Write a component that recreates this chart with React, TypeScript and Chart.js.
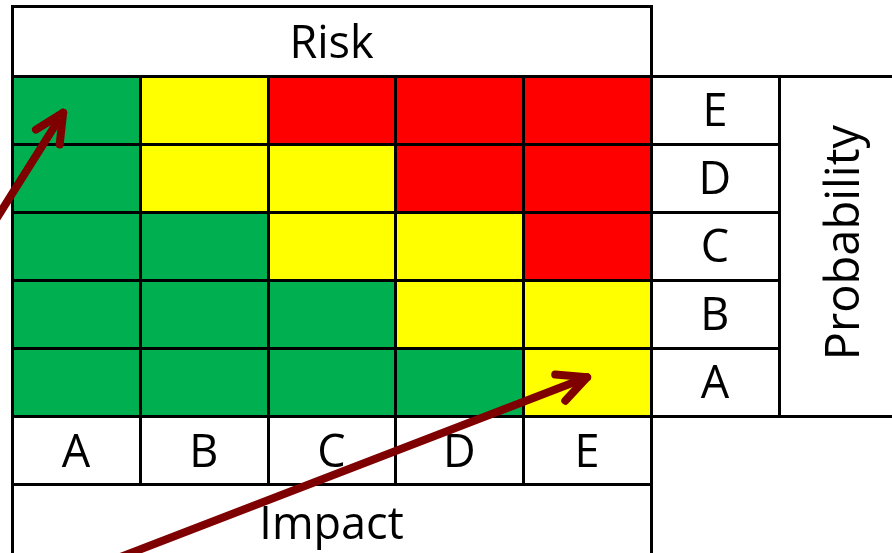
import React, { useEffect, useRef } from "react";
import { Chart, registerables } from "chart.js";

Chart.register(...registerables);

// ---- Data ----
const impactLabels = ["A", "B", "C", "D", "E"]; // columns, left to right
const probabilityLabels = ["A", "B", "C", "D", "E"]; // rows, bottom to top
// risk level per probability row (A..E), per impact column (A..E)
const riskRowA = ["low", "low", "low", "low", "medium"];
const riskRowB = ["low", "low", "low", "medium", "medium"];
const riskRowC = ["low", "low", "medium", "medium", "high"];
const riskRowD = ["low", "medium", "medium", "high", "high"];
const riskRowE = ["low", "medium", "high", "high", "high"];
const riskRows = [riskRowA, riskRowB, riskRowC, riskRowD, riskRowE];
const levelColors: Record<string, string> = {
  low: "#00B050",
  medium: "#FFFF00",
  high: "#FF0000",
};
const titleText = "Risk";
const xTitleText = "Impact";
const yTitleText = "Probability";
// arrows in value units [x, y] (impact column units, probability row units)
const arrowFrom1 = [-0.17, 2.76];
const arrowTo1 = [0.4, 4.46];
const arrowFrom2 = [0.84, -2.08];
const arrowTo2 = [4.5, 0.57];

// ---- layout constants ----
const X_MIN = -0.094;
const X_MAX = 6.886;
const Y_MIN = -2.015;
const Y_MAX = 6.118;
const HEADER_TOP = 6.03;
const FONT = "'Open Sans', 'DejaVu Sans', sans-serif";
const FONT_SIZE = 45;
const CAP = 0.714;

const tablePlugin = {
  id: "riskTable",
  afterDatasetsDraw(chart: any) {
    const { ctx } = chart;
    const xs = chart.scales.x;
    const ys = chart.scales.y;
    const X = (v: number) => xs.getPixelForValue(v);
    const Y = (v: number) => ys.getPixelForValue(v);
    const n = impactLabels.length;
    const m = probabilityLabels.length;
    ctx.save();
    ctx.strokeStyle = "#000";
    ctx.lineWidth = 3;
    ctx.lineCap = "square";
    const line = (x1: number, y1: number, x2: number, y2: number) => {
      ctx.beginPath();
      ctx.moveTo(Math.round(X(x1)) + 0.5, Math.round(Y(y1)) + 0.5);
      ctx.lineTo(Math.round(X(x2)) + 0.5, Math.round(Y(y2)) + 0.5);
      ctx.stroke();
    };
    // horizontal lines
    line(0, HEADER_TOP, n, HEADER_TOP);
    line(0, m, X_MAX + 0.1, m);
    for (let r = 1; r < m; r++) line(0, r, n + 1, r);
    line(0, 0, X_MAX + 0.1, 0);
    line(0, -1, n, -1);
    // vertical lines
    line(0, HEADER_TOP, 0, Y_MIN - 0.1);
    for (let c = 1; c < n; c++) line(c, m, c, -1);
    line(n, HEADER_TOP, n, Y_MIN - 0.1);
    line(n + 1, m, n + 1, 0);

    // text
    ctx.fillStyle = "#000";
    ctx.font = `${FONT_SIZE}px ${FONT}`;
    ctx.textAlign = "center";
    ctx.textBaseline = "alphabetic";
    const capOff = (CAP * FONT_SIZE) / 2;
    const text = (t: string, vx: number, vy: number) => {
      ctx.fillText(t, X(vx), Y(vy) + capOff);
    };
    text(titleText, n / 2, (m + HEADER_TOP) / 2 - 0.02);
    impactLabels.forEach((l, i) => text(l, i + 0.5, -0.52));
    text(xTitleText, n / 2, -1.57);
    probabilityLabels.forEach((l, i) => text(l, n + 0.5, i + 0.5));
    // rotated title
    ctx.save();
    ctx.translate(X(n + 1.5), Y(m / 2 + 0.05));
    ctx.rotate(-Math.PI / 2);
    ctx.font = `${FONT_SIZE + 2}px ${FONT}`;
    ctx.fillText(yTitleText, 0, capOff);
    ctx.restore();

    // arrows
    ctx.strokeStyle = "#7F0000";
    ctx.lineWidth = 8;
    ctx.lineCap = "round";
    ctx.lineJoin = "round";
    const arrow = (from: number[], to: number[]) => {
      const x1 = X(from[0]);
      const y1 = Y(from[1]);
      const x2 = X(to[0]);
      const y2 = Y(to[1]);
      const ang = Math.atan2(y2 - y1, x2 - x1);
      ctx.beginPath();
      ctx.moveTo(x1, y1);
      ctx.lineTo(x2, y2);
      ctx.stroke();
      const len = 32;
      const spread = (26 * Math.PI) / 180;
      ctx.beginPath();
      ctx.moveTo(x2 - len * Math.cos(ang - spread), y2 - len * Math.sin(ang - spread));
      ctx.lineTo(x2, y2);
      ctx.lineTo(x2 - len * Math.cos(ang + spread), y2 - len * Math.sin(ang + spread));
      ctx.stroke();
    };
    arrow(arrowFrom1, arrowTo1);
    arrow(arrowFrom2, arrowTo2);
    ctx.restore();
  },
};

export default function App() {
  const ref = useRef<HTMLCanvasElement | null>(null);
  useEffect(() => {
    if (!ref.current) return;
    const datasets = probabilityLabels.map((p, r) => ({
      label: p,
      data: impactLabels.map((_, c) => ({ x: c + 0.5, y: [r, r + 1] })),
      backgroundColor: riskRows[r].map((lv) => levelColors[lv]),
      borderWidth: 0,
      barPercentage: 1,
      categoryPercentage: 1,
      grouped: false,
    }));
    const chart = new Chart(ref.current, {
      type: "bar",
      data: { datasets } as any,
      options: {
        responsive: false,
        animation: false,
        layout: { padding: 0 },
        plugins: { legend: { display: false }, tooltip: { enabled: false } },
        scales: {
          x: {
            type: "linear",
            min: X_MIN,
            max: X_MAX,
            offset: false,
            display: false,
            afterBuildTicks: (scale: any) => {
              scale.ticks = impactLabels.concat([""]).map((_, i) => ({ value: i }));
            },
          },
          y: { type: "linear", min: Y_MIN, max: Y_MAX, display: false },
        },
      } as any,
      plugins: [tablePlugin],
    });
    return () => chart.destroy();
  }, []);
  return (
    <div style={{ position: "absolute", left: 0, top: 0, width: 892, height: 553, background: "#fff" }}>
      <canvas ref={ref} width={892} height={553} style={{ display: "block" }} />
    </div>
  );
}
